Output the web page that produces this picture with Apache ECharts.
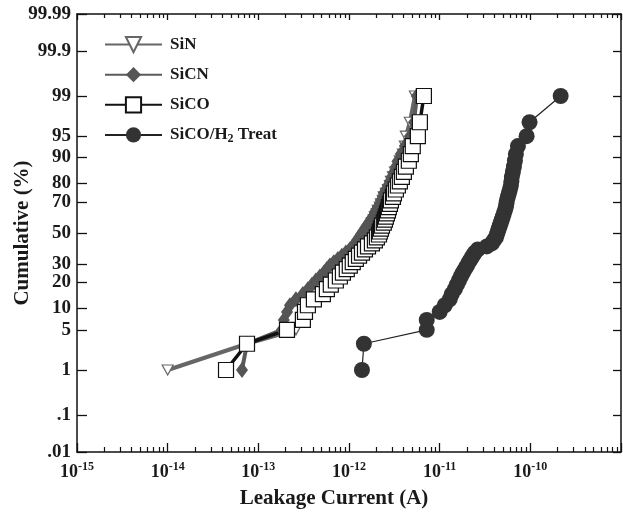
<!DOCTYPE html>
<html><head><meta charset="utf-8">
<script src="https://cdn.jsdelivr.net/npm/echarts@6/dist/echarts.min.js"></script>
<style>html,body{margin:0;padding:0;background:#fff}#c{width:623px;height:519px}</style>
</head><body><div id="c"></div>
<script>
// cumulative percentage of each ranked sample (50 samples per group)
const pct = [1,3,5,7,9,11,13,15,17,19,21,23,25,27,29,31,33,35,37,39,41,43,45,47,49,
             51,53,55,57,59,61,63,65,67,69,71,73,75,77,79,81,83,85,87,89,91,93,95,97,99];
// leakage current (A)
const sinI = [1.0e-14,7.5e-14,2.6e-13,3.1e-13,3.27e-13,3.43e-13,3.7e-13,4.1e-13,4.5e-13,5.0e-13,
  5.55e-13,6.15e-13,6.8e-13,7.55e-13,8.1e-13,8.75e-13,9.45e-13,1.02e-12,1.1e-12,1.19e-12,
  1.25e-12,1.32e-12,1.39e-12,1.46e-12,1.54e-12,1.57e-12,1.66e-12,1.74e-12,1.79e-12,1.88e-12,
  1.93e-12,2.03e-12,2.08e-12,2.19e-12,2.25e-12,2.36e-12,2.42e-12,2.55e-12,2.69e-12,2.83e-12,
  2.9e-12,3.05e-12,3.21e-12,3.46e-12,3.64e-12,3.93e-12,4.13e-12,4.24e-12,4.69e-12,5.33e-12];
const sicnI = [6.6e-14,7.5e-14,1.82e-13,1.91e-13,2.07e-13,2.23e-13,2.6e-13,3.1e-13,3.52e-13,3.9e-13,
  4.31e-13,4.77e-13,5.28e-13,5.7e-13,6.15e-13,6.8e-13,7.55e-13,8.35e-13,9.23e-13,1.02e-12,
  1.1e-12,1.16e-12,1.22e-12,1.29e-12,1.35e-12,1.42e-12,1.5e-12,1.57e-12,1.66e-12,1.74e-12,
  1.83e-12,1.93e-12,1.98e-12,2.08e-12,2.19e-12,2.25e-12,2.36e-12,2.42e-12,2.55e-12,2.69e-12,
  2.83e-12,2.97e-12,3.13e-12,3.29e-12,3.46e-12,3.73e-12,4.13e-12,4.69e-12,5.2e-12,5.6e-12];
const sicoI = [4.4e-14,7.5e-14,2.07e-13,3.1e-13,3.27e-13,3.52e-13,4.1e-13,5.15e-13,5.7e-13,6.3e-13,
  7.16e-13,7.93e-13,8.57e-13,9.45e-13,1.02e-12,1.1e-12,1.19e-12,1.29e-12,1.39e-12,1.5e-12,
  1.62e-12,1.79e-12,1.93e-12,2.03e-12,2.14e-12,2.19e-12,2.25e-12,2.31e-12,2.42e-12,2.49e-12,
  2.55e-12,2.62e-12,2.69e-12,2.75e-12,2.83e-12,2.9e-12,3.05e-12,3.13e-12,3.29e-12,3.46e-12,
  3.64e-12,3.83e-12,4.03e-12,4.24e-12,4.57e-12,4.81e-12,5.05e-12,5.75e-12,6.05e-12,6.7e-12];
const sicoH2I = [1.39e-12,1.46e-12,7.2e-12,7.2e-12,1.0e-11,1.14e-11,1.29e-11,1.36e-11,1.47e-11,1.55e-11,
  1.63e-11,1.71e-11,1.80e-11,1.90e-11,2.0e-11,2.1e-11,2.21e-11,2.32e-11,2.44e-11,2.64e-11,
  3.31e-11,3.76e-11,3.95e-11,4.17e-11,4.27e-11,4.38e-11,4.49e-11,4.61e-11,4.73e-11,4.85e-11,
  4.98e-11,5.1e-11,5.24e-11,5.37e-11,5.44e-11,5.51e-11,5.65e-11,5.80e-11,5.95e-11,6.1e-11,
  6.18e-11,6.26e-11,6.42e-11,6.59e-11,6.76e-11,6.93e-11,7.3e-11,9.1e-11,9.8e-11,2.16e-10];
const seriesNames = ['SiN','SiCN','SiCO','SiCO/H2 Treat'];
const yTickPct = [0.01,0.1,1,5,10,20,30,50,70,80,90,95,99,99.9,99.99];
const yTickLabels = ['.01','.1','1','5','10','20','30','50','70','80','90','95','99','99.9','99.99'];
const xTickExp = [-15,-14,-13,-12,-11,-10,-9];
const xLabelExp = [-15,-14,-13,-12,-11,-10];
const xMinorMult = [2,3,4,5,6,7,8,9];

function invNorm(p){
  const a=[-3.969683028665376e+01,2.209460984245205e+02,-2.759285104469687e+02,1.383577518672690e+02,-3.066479806614716e+01,2.506628277459239e+00];
  const b=[-5.447609879822406e+01,1.615858368580409e+02,-1.556989798598866e+02,6.680131188771972e+01,-1.328068155288572e+01];
  const c=[-7.784894002430293e-03,-3.223964580411365e-01,-2.400758277161838e+00,-2.549732539343734e+00,4.374664141464968e+00,2.938163982698783e+00];
  const d=[7.784695709041462e-03,3.224671290700398e-01,2.445134137142996e+00,3.754408661907416e+00];
  const pl=0.02425, ph=1-pl; let q,r;
  if(p<pl){q=Math.sqrt(-2*Math.log(p));return (((((c[0]*q+c[1])*q+c[2])*q+c[3])*q+c[4])*q+c[5])/((((d[0]*q+d[1])*q+d[2])*q+d[3])*q+1);}
  if(p<=ph){q=p-0.5;r=q*q;return (((((a[0]*r+a[1])*r+a[2])*r+a[3])*r+a[4])*r+a[5])*q/(((((b[0]*r+b[1])*r+b[2])*r+b[3])*r+b[4])*r+1);}
  q=Math.sqrt(-2*Math.log(1-p));return -(((((c[0]*q+c[1])*q+c[2])*q+c[3])*q+c[4])*q+c[5])/((((d[0]*q+d[1])*q+d[2])*q+d[3])*q+1);
}
const zTicks = yTickPct.map(p => invNorm(p/100));
const zMin = zTicks[0], zMax = zTicks[zTicks.length-1];
const xMinor = [];
xTickExp.slice(0,-1).forEach(e => xMinorMult.forEach(m => xMinor.push(e + Math.log10(m))));
const toPts = arr => arr.map((v,i) => [Math.log10(v), invNorm(pct[i]/100)]);

const FONT = 'Liberation Serif';
const txt = {fontFamily: FONT, fontWeight: 'bold', color: '#1a1a1a'};
const ylabel = v => { let b=0; zTicks.forEach((z,i)=>{ if(Math.abs(z-v)<Math.abs(zTicks[b]-v)) b=i; }); return yTickLabels[b]; };
const axLine = {show:true, onZero:false, lineStyle:{color:'#111', width:1.5}};
const noLine = {show:false, onZero:false};

const chart = echarts.init(document.getElementById('c'), null, {renderer:'canvas'});
chart.setOption({
  animation:false,
  backgroundColor:'#fff',
  grid:{left:77, right:2, top:14, bottom:67, containLabel:false, outerBoundsMode:'none'},
  legend:{
    orient:'vertical', left:99, top:31, itemWidth:57, itemHeight:19, itemGap:13,
    data: seriesNames,
    formatter: n => n === 'SiCO/H2 Treat' ? 'SiCO/H{sub|2} Treat' : n,
    textStyle: Object.assign({fontSize:17, padding:[0,0,0,3],
      rich:{sub:{fontFamily:FONT, fontWeight:'bold', fontSize:12, color:'#1a1a1a', padding:[9,0,0,0]}}}, txt)
  },
  xAxis:[
    {type:'value', min:-15, max:-9, interval:1, position:'bottom',
     axisLine:axLine, axisTick:{inside:true, length:9, lineStyle:{color:'#111', width:1.3}},
     axisLabel:{margin:9, customValues:xLabelExp, formatter: v => '{b|10}{s|' + v + '}',
       rich:{b:Object.assign({fontSize:18},txt), s:Object.assign({fontSize:12, padding:[0,0,10,0]},txt)}},
     splitLine:{show:false},
     name:'Leakage Current (A)', nameLocation:'middle', nameGap:36, nameMoveOverlap:false,
     nameTextStyle:Object.assign({fontSize:21, padding:[0,30,0,0]}, txt)},
    {type:'value', min:-15, max:-9, position:'bottom', axisLine:noLine,
     axisTick:{inside:true, length:5, customValues:xMinor, lineStyle:{color:'#111', width:1.2}},
     axisLabel:{show:false}, splitLine:{show:false}},
    {type:'value', min:-15, max:-9, interval:1, position:'top', axisLine:axLine,
     axisTick:{inside:true, length:6, lineStyle:{color:'#111', width:1.3}},
     axisLabel:{show:false}, splitLine:{show:false}},
    {type:'value', min:-15, max:-9, position:'top', axisLine:noLine,
     axisTick:{inside:true, length:4, customValues:xMinor, lineStyle:{color:'#111', width:1.2}},
     axisLabel:{show:false}, splitLine:{show:false}}
  ],
  yAxis:[
    {type:'value', min:zMin, max:zMax, position:'left', axisLine:axLine,
     axisTick:{inside:true, length:10, customValues:zTicks, lineStyle:{color:'#111', width:1.3}},
     axisLabel:Object.assign({customValues:zTicks, formatter:ylabel, fontSize:19, margin:6}, txt),
     splitLine:{show:false},
     name:'Cumulative (%)', nameLocation:'middle', nameGap:44, nameRotate:90, nameMoveOverlap:false,
     nameTextStyle:Object.assign({fontSize:21}, txt)},
    {type:'value', min:zMin, max:zMax, position:'right', axisLine:axLine,
     axisTick:{inside:true, length:8, customValues:zTicks, lineStyle:{color:'#111', width:1.3}},
     axisLabel:{show:false}, splitLine:{show:false}}
  ],
  series:[
    {name:'SiN', type:'line', data:toPts(sinI), symbol:'path://M0,0L10,0L5,9Z', symbolSize:[11,10],
     itemStyle:{color:'#fff', borderColor:'#666', borderWidth:1.2}, lineStyle:{color:'#666', width:4}},
    {name:'SiCN', type:'line', data:toPts(sicnI), symbol:'diamond', symbolSize:[12,16],
     itemStyle:{color:'#555'}, lineStyle:{color:'#5a5a5a', width:4}},
    {name:'SiCO', type:'line', data:toPts(sicoI), symbol:'rect', symbolSize:15,
     itemStyle:{color:'#fff', borderColor:'#111', borderWidth:1.2}, lineStyle:{color:'#111', width:3.5}},
    {name:'SiCO/H2 Treat', type:'line', data:toPts(sicoH2I), symbol:'circle', symbolSize:16,
     itemStyle:{color:'#333'}, lineStyle:{color:'#222', width:1.2}}
  ]
});
</script></body></html>
